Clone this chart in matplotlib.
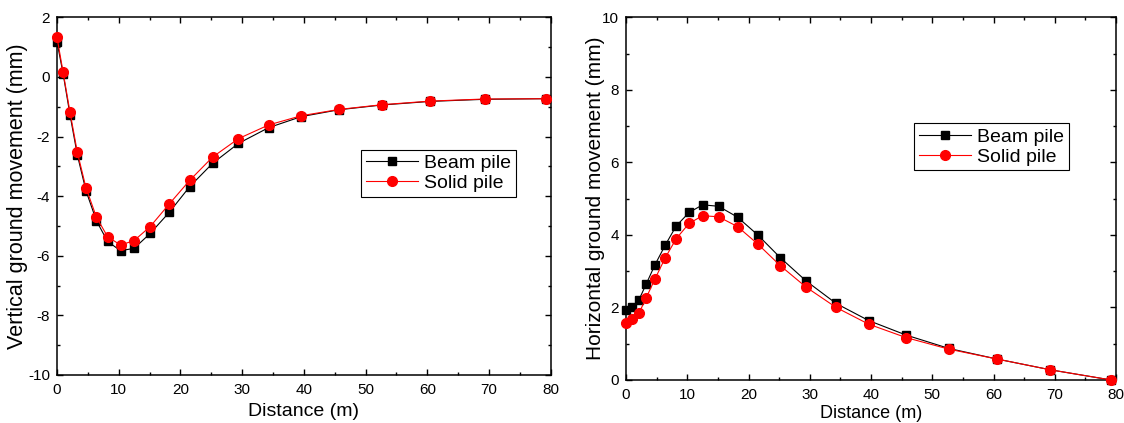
import matplotlib
matplotlib.use('Agg')
import matplotlib.pyplot as plt
from matplotlib.ticker import MultipleLocator

plt.rcParams['font.family'] = ['Liberation Sans', 'DejaVu Sans']
plt.rcParams['axes.unicode_minus'] = False

# distance from the excavation (m)
distance = [0, 1.0, 2.1, 3.3, 4.7, 6.4, 8.2, 10.3, 12.5, 15.1, 18.2, 21.5,
            25.2, 29.4, 34.3, 39.6, 45.7, 52.7, 60.5, 69.3, 79.2]

# vertical ground movement (mm)
vert_beam = [1.18, 0.10, -1.26, -2.62, -3.82, -4.83, -5.52, -5.83, -5.75, -5.25, -4.54,
             -3.68, -2.90, -2.23, -1.70, -1.33, -1.10, -0.94, -0.82, -0.75, -0.73]
vert_solid = [1.33, 0.15, -1.17, -2.53, -3.72, -4.71, -5.36, -5.64, -5.49, -5.02, -4.26,
              -3.47, -2.69, -2.07, -1.61, -1.30, -1.09, -0.93, -0.81, -0.74, -0.73]

# horizontal ground movement (mm)
hor_beam = [1.93, 2.02, 2.21, 2.65, 3.17, 3.72, 4.25, 4.62, 4.83, 4.79, 4.49,
            4.00, 3.37, 2.73, 2.11, 1.64, 1.24, 0.87, 0.58, 0.28, 0.0]
hor_solid = [1.58, 1.67, 1.84, 2.27, 2.78, 3.37, 3.90, 4.32, 4.53, 4.50, 4.23,
             3.75, 3.15, 2.56, 2.00, 1.54, 1.17, 0.85, 0.58, 0.28, 0.0]

labels = ['Beam pile', 'Solid pile']


def style_axes(ax, ymin, ymax, ystep, ylabel, xl_size, yl_size, xl_pos, yl_pos):
    ax.set_xlim(0, 80)
    ax.set_ylim(ymin, ymax)
    ax.xaxis.set_major_locator(MultipleLocator(10))
    ax.xaxis.set_minor_locator(MultipleLocator(5))
    ax.yaxis.set_major_locator(MultipleLocator(ystep))
    ax.yaxis.set_minor_locator(MultipleLocator(ystep / 2))
    ax.tick_params(which='both', direction='in', top=True, right=True,
                   labeltop=False, labelright=False, width=1.0, labelsize=11)
    ax.tick_params(axis='x', pad=6)
    ax.tick_params(axis='y', pad=5)
    ax.tick_params(which='major', length=4.5)
    ax.tick_params(which='minor', length=2.5)
    for sp in ax.spines.values():
        sp.set_linewidth(1.1)
    ax.set_xlabel('Distance (m)', fontsize=xl_size)
    ax.set_ylabel(ylabel, fontsize=yl_size)
    ax.xaxis.set_label_coords(0.5, xl_pos)
    ax.yaxis.set_label_coords(yl_pos, 0.5)


def draw(ax, beam, solid, anchor):
    ax.plot(distance, beam, color='black', marker='s', markersize=5.5, lw=0.8,
            clip_on=False, zorder=3, label=labels[0])
    ax.plot(distance, solid, color='red', marker='o', markersize=7, lw=0.8,
            clip_on=False, zorder=4, label=labels[1])
    leg = ax.legend(loc='upper left', bbox_to_anchor=anchor,
                    bbox_transform=fig.transFigure, fontsize=14, fancybox=False,
                    edgecolor='black', framealpha=1, borderpad=0.25,
                    labelspacing=0.12, handlelength=2.7, handletextpad=0.3,
                    borderaxespad=0)
    leg.get_frame().set_linewidth(0.8)


fig = plt.figure(figsize=(11.24, 4.23), dpi=100)
ax1 = fig.add_axes([0.0507, 0.1135, 0.4393, 0.8455])
ax2 = fig.add_axes([0.557, 0.1017, 0.4359, 0.8573])

draw(ax1, vert_beam, vert_solid, (0.321, 0.646))
style_axes(ax1, -10, 2, 2, 'Vertical ground movement (mm)', 14, 15.5, -0.078, -0.059)

draw(ax2, hor_beam, hor_solid, (0.813, 0.709))
style_axes(ax2, 0, 10, 2, 'Horizontal ground movement (mm)', 13, 15, -0.07, -0.043)

fig.savefig('out.png', dpi=100)
